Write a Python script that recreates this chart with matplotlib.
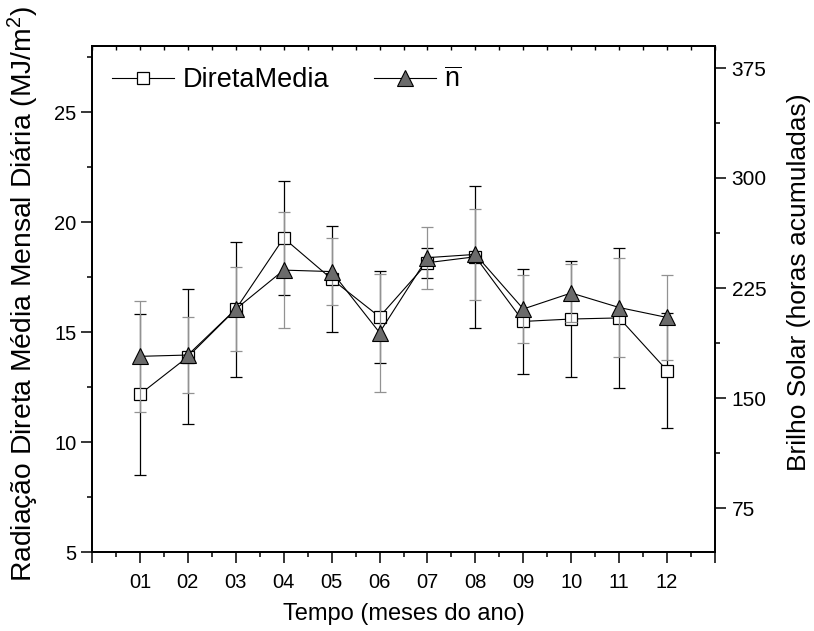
import matplotlib
matplotlib.use("Agg")
import matplotlib.pyplot as plt
from matplotlib.ticker import FixedLocator, MultipleLocator

plt.rcParams['font.family'] = ['Liberation Sans', 'DejaVu Sans']
plt.rcParams['mathtext.fontset'] = 'custom'
plt.rcParams['mathtext.rm'] = 'Liberation Sans'
plt.rcParams['mathtext.it'] = 'Liberation Sans'
plt.rcParams['mathtext.bf'] = 'Liberation Sans:bold'

months = ['01', '02', '03', '04', '05', '06', '07', '08', '09', '10', '11', '12']
direta = [12.17, 13.87, 16.03, 19.27, 17.41, 15.69, 18.15, 18.42, 15.48, 15.59, 15.64, 13.25]
direta_err = [3.66, 3.07, 3.07, 2.60, 2.41, 2.10, 0.68, 3.22, 2.37, 2.63, 3.19, 2.62]
brilho = [178.4, 179.3, 210.6, 237.2, 236.2, 194.6, 245.7, 247.9, 210.7, 221.6, 211.7, 204.9]
brilho_err = [37.8, 25.6, 28.6, 39.3, 22.7, 40.2, 21.1, 30.8, 23.3, 20.0, 33.6, 28.9]

x = list(range(1, len(months) + 1))

fig = plt.figure(figsize=(8.14, 6.31), dpi=100)
ax = fig.add_axes([92 / 814, 79 / 631, (715 - 92) / 814, (552 - 46) / 631])
ax2 = ax.twinx()

gray = '#929292'
tri_face = '#6b6b6b'

ax.errorbar(x, direta, yerr=direta_err, fmt='none', ecolor='black',
            elinewidth=0.9, capsize=4.5, capthick=0.9, zorder=2)
l1, = ax.plot(x, direta, color='black', lw=0.8, marker='s', markersize=9,
              markerfacecolor='white', markeredgecolor='black', markeredgewidth=0.9,
              label='DiretaMedia', zorder=3)

ax2.errorbar(x, brilho, yerr=brilho_err, fmt='none', ecolor=gray,
             elinewidth=0.9, capsize=4.5, capthick=0.9, zorder=2)
l2, = ax2.plot(x, brilho, color='black', lw=0.8, marker='^', markersize=11,
               markerfacecolor=tri_face, markeredgecolor='black', markeredgewidth=0.8,
               label=r'$\overline{\mathrm{n}}$', zorder=3)

ax.set_xlim(0, 13)
ax.set_ylim(5, 28)
ax2.set_ylim(45, 390)

ax.xaxis.set_major_locator(FixedLocator(list(range(0, 14))))
ax.set_xticklabels([''] + months + [''])
ax.xaxis.set_minor_locator(MultipleLocator(0.5))
ax.yaxis.set_major_locator(MultipleLocator(5))
ax.yaxis.set_minor_locator(MultipleLocator(2.5))
ax2.yaxis.set_major_locator(FixedLocator([75, 150, 225, 300, 375]))
ax2.yaxis.set_minor_locator(MultipleLocator(37.5))

ax.tick_params(axis='x', which='major', direction='out', length=8, width=1.1,
               labelsize=14.5, pad=7, top=False)
ax.tick_params(axis='x', which='minor', direction='out', length=3.5, width=1.1, top=False)
ax.tick_params(axis='y', which='major', direction='out', length=8, width=1.1,
               labelsize=14.5, pad=3)
ax.tick_params(axis='y', which='minor', direction='out', length=3.5, width=1.1)
ax2.tick_params(axis='y', which='major', direction='out', length=8, width=1.1,
                labelsize=15, pad=4)
ax2.tick_params(axis='y', which='minor', direction='out', length=3.5, width=1.1)

# small inward ticks along the top spine
sec = ax.secondary_xaxis('top')
sec.xaxis.set_major_locator(FixedLocator(list(range(0, 14))))
sec.xaxis.set_minor_locator(MultipleLocator(0.5))
sec.tick_params(axis='x', which='both', direction='in', length=3, width=1.0,
                labelsize=0, labeltop=False)
sec.spines['top'].set_linewidth(1.3)

for a in (ax, ax2):
    for s in a.spines.values():
        s.set_linewidth(1.3)

ax.set_xlabel('Tempo (meses do ano)', fontsize=17)
ax.xaxis.set_label_coords(0.5, -0.1)
ax.set_ylabel('Radiação Direta Média Mensal Diária (MJ/m$^2$)', fontsize=20.3)
ax.yaxis.set_label_coords(-0.082, 0.51)
ax2.set_ylabel('Brilho Solar (horas acumuladas)', fontsize=19)
ax2.yaxis.set_label_coords(1.115, 0.534)

leg = ax2.legend([l1, l2], ['DiretaMedia', r'$\overline{\mathrm{n}}$'], ncol=2,
                 loc='upper left', bbox_to_anchor=(0.032, 0.958), frameon=False,
                 fontsize=19.5, handlelength=2.3, handletextpad=0.3,
                 columnspacing=1.65, borderaxespad=0, borderpad=0)

fig.savefig('out.png', dpi=100)
